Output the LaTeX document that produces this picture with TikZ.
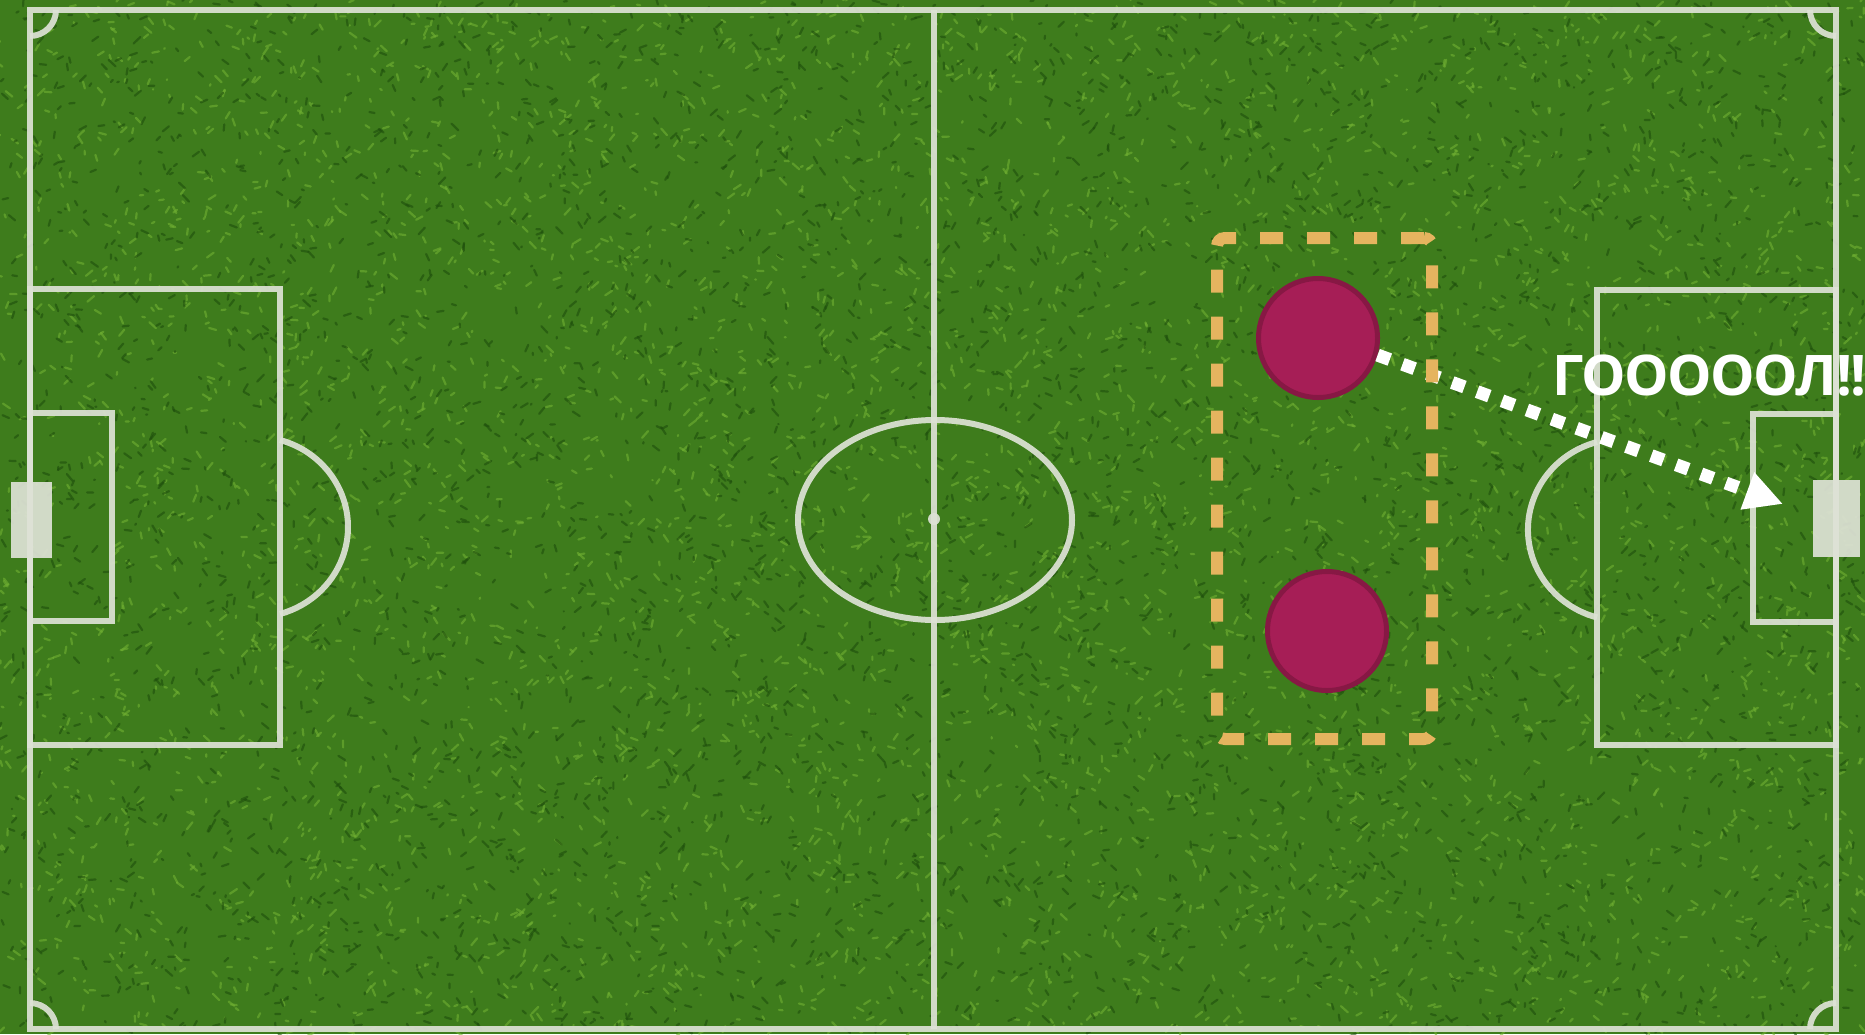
\documentclass[tikz,border=0pt]{standalone}
\usepackage{fontspec}
\setmainfont{Open Sans}
\usetikzlibrary{arrows.meta}
\definecolor{grass}{RGB}{62,124,28}
\definecolor{grassL}{RGB}{112,176,50}
\definecolor{grassD}{RGB}{30,78,12}
\definecolor{chalk}{RGB}{222,226,214}
\definecolor{player}{RGB}{166,30,86}
\definecolor{playerB}{RGB}{135,24,68}
\definecolor{zone}{RGB}{229,180,95}
\tikzset{
  pitchline/.style={draw=chalk, line width=6pt, opacity=0.92},
  goalframe/.style={fill=chalk, opacity=0.92},
  blade/.style={line width=2.2pt, line cap=round, opacity=0.6},
  playerdot/.style={circle, fill=player, draw=playerB, line width=5pt, minimum size=119pt, inner sep=0pt},
  zonebox/.style={draw=zone, line width=12pt, dash pattern=on 23pt off 24pt, rounded corners=8pt,
    minimum width=215pt, minimum height=501pt, inner sep=0pt},
  shotline/.style={draw=white, line width=13pt, dash pattern=on 13pt off 13.5pt,
    -{Triangle[length=38pt,width=37pt]}},
  shout/.style={text=white, font=\bfseries\fontsize{56}{64}\selectfont\addfontfeatures{LetterSpace=-2.5},
    inner sep=0pt, anchor=base west},
}
\begin{document}
\begin{tikzpicture}[x=1pt,y=-1pt]
\useasboundingbox (0,0) rectangle (1865,1034);
\begin{scope}
\clip (0,0) rectangle (1865,1034);
% grass
\fill[grass] (0,0) rectangle (1865,1034);
\pgfmathsetseed{7}
\foreach \i in {1,...,4500} {\draw[grassL, blade] (rnd*1865, rnd*1034) -- ++(rand*7, rand*7);}
\foreach \i in {1,...,4500} {\draw[grassD, blade] (rnd*1865, rnd*1034) -- ++(rand*7, rand*7);}
% pitch markings
\draw[pitchline] (30,10) rectangle (1836,1029);
\draw[pitchline] (934,10) -- (934,1029);
\draw[pitchline] (935,520) ellipse[x radius=137, y radius=100];
\fill[chalk, opacity=0.92] (934,519) circle (6);
\draw[pitchline] (30,289) rectangle (280,745);
\draw[pitchline] (30,413) rectangle (112,621);
\draw[pitchline] (1597,290) rectangle (1836,745);
\draw[pitchline] (1753,414) rectangle (1836,622);
\draw[pitchline] (280,440) arc[start angle=-74.4, end angle=74.4, x radius=93, y radius=90.3];
\draw[pitchline] (1597,442) arc[start angle=-105.4, end angle=-254.6, x radius=94, y radius=91];
\draw[pitchline] (56,10) arc[start angle=0, end angle=90, radius=26];
\draw[pitchline] (1836,36) arc[start angle=90, end angle=180, radius=26];
\draw[pitchline] (56,1029) arc[start angle=0, end angle=-90, radius=26];
\draw[pitchline] (1810,1029) arc[start angle=180, end angle=270, radius=26];
\fill[goalframe] (11,482) rectangle (52,558);
\fill[goalframe] (1813,480) rectangle (1860,557);
% players and shot
\node[playerdot] (p1) at (1318,338) {};
\node[playerdot] (p2) at (1327,631) {};
\coordinate (tip) at (1783,504);
\draw[shotline] (p1.-16) -- (tip);
\node[zonebox] (zone) at (1324.5,488.5) {};
\node[shout] (gol) at (1552,395) {ГОООООЛ!!};
\end{scope}
\end{tikzpicture}
\end{document}
